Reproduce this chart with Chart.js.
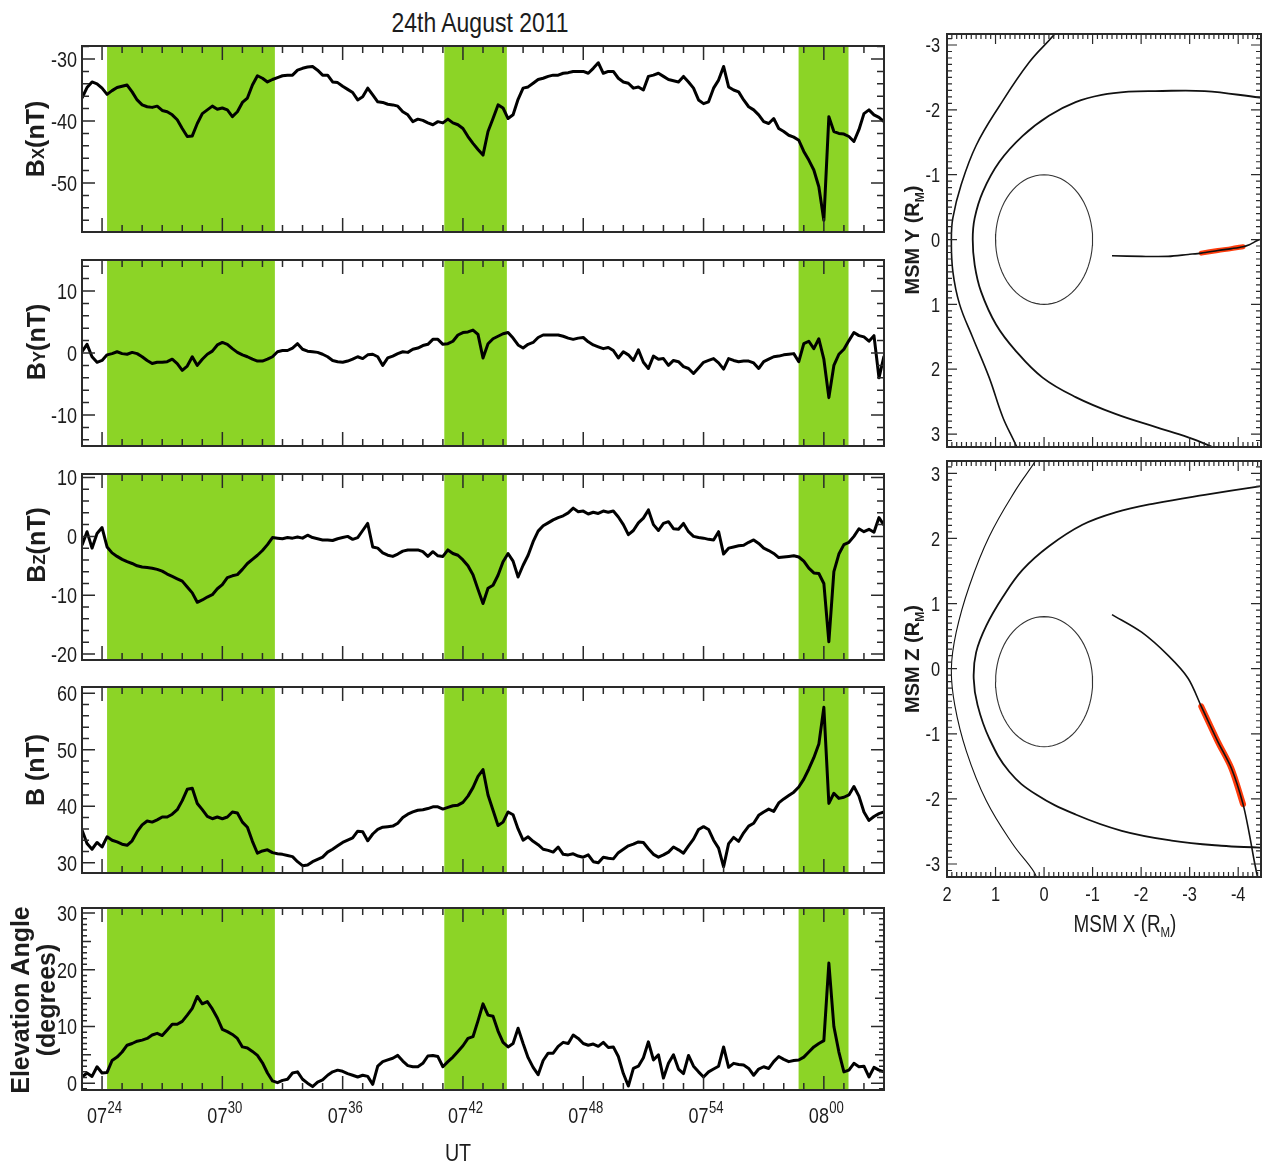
<!DOCTYPE html>
<html>
<head>
<meta charset="utf-8">
<script src="https://cdn.jsdelivr.net/npm/chart.js@4.4.1/dist/chart.umd.min.js"></script>
<style>
  html, body { margin: 0; padding: 0; background: #fff; }
  body { width: 1274px; height: 1169px; position: relative; overflow: hidden; }
  canvas { position: absolute; }
  #title { position: absolute; left: 330px; top: 9px; width: 300px; text-align: center;
           font: 28px/28px "Liberation Sans", Arial, sans-serif; color: #1c1c1c;
           transform: scaleX(0.82); transform-origin: 150px 0; }
</style>
</head>
<body>
<div id="title">24th August 2011</div>
<canvas id="cBx"></canvas>
<canvas id="cBy"></canvas>
<canvas id="cBz"></canvas>
<canvas id="cB"></canvas>
<canvas id="cEl"></canvas>
<canvas id="cXY"></canvas>
<canvas id="cXZ"></canvas>
<script>
// ---------- time base: minutes after 07:00 UT, one sample every 15 s (07:23 - 08:03) ----------
const minutes = Array.from({ length: 161 }, (_, i) => 23 + i * 0.25);
const timeTicks = [24, 30, 36, 42, 48, 54, 60];

// shaded intervals (minutes after 07:00 UT)
const bandStart = [24.25, 41.07, 58.74];
const bandEnd   = [32.62, 44.19, 61.23];

// ---------- magnetic field components (nT) ----------
const bx = [
  -36.3, -34.6, -33.7, -34.0, -34.7, -35.7, -35.1, -34.6, -34.4, -34.2, -35.3, -36.6, -37.4, -37.7, -37.8, -37.6, -38.3, -38.5, -39.0, -39.8,
  -41.2, -42.5, -42.4, -40.4, -38.8, -38.2, -37.6, -38.1, -37.9, -38.2, -39.3, -38.5, -37.0, -36.3, -34.2, -32.7, -33.1, -33.7, -33.3, -33.0,
  -32.7, -32.6, -32.6, -31.8, -31.5, -31.3, -31.2, -31.8, -32.6, -32.6, -33.7, -33.8, -34.4, -34.9, -35.4, -36.6, -36.1, -34.7, -35.8, -36.9,
  -37.0, -37.3, -37.4, -37.6, -38.5, -39.0, -40.1, -39.7, -39.9, -40.3, -40.6, -40.1, -40.3, -39.7, -40.3, -40.6, -41.2, -42.5, -43.6, -44.6,
  -45.5, -41.7, -39.6, -37.4, -37.9, -39.6, -39.0, -36.5, -34.7, -34.5, -33.9, -33.3, -33.1, -32.8, -32.6, -32.6, -32.3, -32.2, -32.0, -32.0,
  -32.0, -32.3, -31.5, -30.6, -32.3, -32.0, -32.0, -33.1, -33.7, -33.9, -34.7, -34.5, -35.0, -32.8, -32.6, -32.3, -32.8, -33.3, -33.5, -33.7,
  -32.8, -33.7, -34.7, -36.6, -37.2, -36.9, -34.7, -33.4, -31.2, -34.5, -35.0, -35.3, -36.6, -37.7, -38.2, -39.0, -40.1, -40.4, -39.6, -41.2,
  -41.7, -42.3, -42.6, -43.1, -44.9, -46.3, -47.9, -50.6, -56.0, -39.3, -41.7, -42.0, -42.1, -42.5, -43.3, -41.4, -38.8, -38.2, -39.0, -39.4,
  -40.1
];
const by = [
  0.2, 1.4, -0.6, -1.5, -1.2, -0.3, -0.1, 0.2, -0.1, -0.2, 0.1, -0.1, -0.6, -1.2, -1.7, -1.5, -1.5, -1.4, -1.0, -1.7,
  -2.8, -2.1, -0.6, -2.0, -1.0, -0.2, 0.3, 1.3, 1.7, 1.4, 0.7, 0.1, -0.3, -0.6, -1.0, -1.3, -1.3, -1.0, -0.6, 0.2,
  0.4, 0.4, 0.8, 1.5, 0.6, 0.3, 0.2, 0.1, -0.2, -0.6, -1.2, -1.4, -1.5, -1.3, -1.0, -0.6, -0.9, -0.3, -0.2, -0.6,
  -2.0, -0.8, -0.5, -0.1, 0.2, 0.1, 0.6, 0.8, 1.2, 1.4, 2.2, 2.2, 1.4, 1.5, 1.9, 2.9, 3.3, 3.4, 3.7, 3.0,
  -0.8, 1.5, 2.3, 2.7, 3.1, 3.3, 2.4, 1.3, 0.8, 1.4, 1.7, 2.5, 2.9, 2.9, 2.9, 2.9, 2.7, 2.4, 2.2, 2.4,
  2.5, 1.8, 1.3, 1.0, 0.7, 0.9, 0.4, -0.8, 0.2, -0.3, -1.2, 0.5, -1.5, -2.5, -0.5, -1.0, -0.9, -2.0, -1.2, -1.4,
  -2.2, -2.5, -3.3, -2.4, -1.5, -1.2, -0.9, -1.6, -2.6, -0.9, -1.2, -1.4, -1.3, -1.3, -1.6, -2.5, -1.4, -1.0, -0.6, -0.5,
  -0.3, -0.2, -0.1, -1.4, 1.5, 1.9, 0.7, 2.3, -1.0, -7.2, -2.0, -0.2, 0.6, 2.0, 3.3, 2.8, 2.6, 1.9, 2.8, -4.0,
  -0.5
];
const bz = [
  -1.5, 0.8, -2.0, 0.5, 1.5, -1.8, -2.8, -3.4, -3.9, -4.3, -4.6, -5.0, -5.2, -5.3, -5.4, -5.6, -5.9, -6.4, -6.8, -7.2,
  -7.6, -8.6, -9.6, -11.2, -10.8, -10.3, -9.9, -8.9, -8.2, -7.0, -6.7, -6.5, -5.6, -4.6, -3.9, -3.2, -2.4, -1.4, -0.2, -0.3,
  -0.4, -0.2, -0.3, -0.1, -0.3, 0.2, -0.2, -0.4, -0.6, -0.6, -0.7, -0.4, -0.2, 0.0, -0.5, -0.2, 1.0, 2.2, -1.8, -2.0,
  -2.8, -3.2, -3.4, -3.0, -2.5, -2.3, -2.3, -2.3, -2.6, -3.4, -2.6, -3.3, -3.4, -2.3, -2.9, -3.2, -4.0, -5.0, -6.5, -9.0,
  -11.4, -8.8, -8.3, -6.6, -4.3, -2.9, -4.2, -6.9, -4.9, -3.2, -0.9, 0.9, 1.8, 2.3, 2.8, 3.2, 3.5, 4.0, 4.8, 4.2,
  4.3, 3.8, 4.1, 3.9, 4.3, 4.1, 4.3, 3.3, 2.0, 0.3, 1.0, 2.3, 3.1, 4.5, 2.0, 1.0, 2.2, 2.5, 1.3, 1.2,
  2.2, 0.8, 0.0, -0.2, -0.3, -0.5, -0.6, 0.8, -3.0, -2.0, -1.8, -1.6, -1.5, -1.0, -0.6, -1.2, -2.0, -2.4, -2.9, -3.6,
  -3.5, -3.4, -3.3, -3.5, -4.2, -5.4, -6.2, -6.3, -8.0, -17.9, -6.0, -3.0, -1.4, -1.0, 0.0, 1.3, 0.8, 1.2, 0.7, 3.2,
  1.9
];
const bTotal = [
  35.8, 33.4, 32.4, 33.6, 32.8, 34.6, 34.0, 33.7, 33.3, 33.1, 33.9, 35.5, 36.7, 37.4, 37.2, 37.6, 38.1, 38.1, 38.6, 39.4,
  41.0, 43.0, 43.2, 40.5, 39.4, 38.2, 37.8, 38.1, 37.8, 38.1, 39.0, 38.8, 37.2, 36.3, 33.8, 31.7, 32.1, 32.3, 31.8, 31.6,
  31.5, 31.3, 31.1, 30.2, 29.5, 29.6, 30.2, 30.6, 31.0, 31.9, 32.4, 33.0, 33.6, 34.0, 34.4, 35.6, 35.5, 33.9, 35.1, 35.9,
  36.3, 36.4, 36.5, 37.0, 38.0, 38.6, 39.0, 39.3, 39.4, 39.6, 39.9, 39.9, 39.5, 39.8, 40.1, 40.2, 40.7, 41.8, 43.3, 45.3,
  46.5, 42.0, 39.3, 36.6, 37.2, 39.0, 38.5, 36.0, 34.0, 34.6, 33.8, 33.2, 32.4, 32.2, 31.9, 32.8, 31.5, 31.4, 31.6, 31.2,
  31.0, 31.4, 30.2, 30.0, 31.0, 30.8, 30.7, 31.8, 32.4, 33.0, 33.3, 33.7, 33.6, 32.5, 31.5, 31.0, 31.4, 31.9, 32.8, 32.3,
  31.7, 33.0, 34.2, 35.9, 36.4, 35.9, 34.0, 32.6, 29.3, 33.4, 34.5, 33.8, 35.3, 36.5, 37.0, 38.4, 39.0, 39.5, 39.1, 40.6,
  41.3, 41.9, 42.5, 43.4, 44.8, 46.6, 48.6, 51.0, 57.5, 40.5, 42.3, 41.4, 41.6, 42.0, 43.5, 41.8, 39.0, 37.5, 38.2, 38.7,
  39.0
];
// field elevation angle (degrees)
const elevation = [
  1.1, 1.8, 1.2, 2.9, 1.8, 1.9, 4.0, 4.6, 5.5, 6.7, 7.0, 7.4, 7.6, 7.9, 8.5, 8.8, 8.4, 9.4, 10.4, 10.4,
  10.9, 12.0, 13.2, 15.3, 14.0, 14.4, 13.1, 11.5, 9.5, 9.1, 8.6, 7.9, 6.4, 6.2, 5.6, 4.9, 3.6, 1.8, 0.4, 0.1,
  0.5, 0.7, 1.8, 2.0, 0.7, 0.0, -0.6, 0.2, 0.6, 1.4, 2.0, 2.3, 2.1, 1.7, 1.4, 1.1, 1.4, 1.2, -0.2, 3.0,
  3.8, 4.1, 4.4, 4.9, 3.9, 3.1, 2.9, 2.9, 3.5, 4.8, 4.9, 4.7, 2.9, 3.8, 4.6, 5.6, 6.6, 7.9, 8.2, 11.0,
  14.0, 12.0, 11.8, 9.2, 7.2, 6.4, 7.0, 9.7, 7.0, 4.5, 2.8, 1.5, 4.0, 5.3, 5.3, 6.5, 7.2, 7.0, 8.5, 7.9,
  7.0, 6.7, 6.9, 6.5, 7.2, 6.3, 6.4, 4.7, 1.7, -0.5, 2.6, 3.0, 4.5, 7.3, 4.1, 5.0, 0.9, 3.5, 5.0, 2.5,
  1.7, 4.9, 3.0, 2.0, 1.1, 2.0, 2.5, 3.0, 6.4, 2.8, 3.5, 3.3, 3.2, 2.6, 1.4, 2.5, 2.9, 2.6, 3.8, 4.7,
  4.2, 3.8, 4.0, 4.1, 4.6, 5.5, 6.4, 7.0, 7.5, 21.2, 10.0, 5.5, 2.0, 2.3, 3.5, 2.9, 3.0, 1.1, 2.8, 2.3,
  2.0
];

const bxTicks = [-50, -40, -30];
const byTicks = [-10, 0, 10];
const bzTicks = [-20, -10, 0, 10];
const bTicks = [30, 40, 50, 60];
const elevTicks = [0, 10, 20, 30];

// ---------- MSM geometry (Mercury radii) ----------
const msmXTicks = [2, 1, 0, -1, -2, -3, -4];
const msmTicks = [-3, -2, -1, 0, 1, 2, 3];

const bowShockXY = [[-0.30, -3.30], [-0.24, -3.19], [0.31, -2.73], [0.92, -2.06], [1.40, -1.45], [1.71, -0.84], [1.88, -0.33], [1.91, 0.0],
                    [1.88, 0.49], [1.74, 1.0], [1.47, 1.51], [1.13, 2.13], [0.85, 2.74], [0.58, 3.17], [0.52, 3.30]];
const magnetopauseXY = [[-4.60, -2.18], [-4.44, -2.19], [-3.31, -2.29], [-2.29, -2.29], [-1.74, -2.28], [-1.19, -2.23], [-0.65, -2.12],
                        [-0.10, -1.91], [0.44, -1.60], [0.92, -1.20], [1.26, -0.74], [1.43, -0.33], [1.47, 0.0], [1.43, 0.39],
                        [1.30, 0.80], [0.99, 1.31], [0.58, 1.72], [0.03, 2.13], [-0.65, 2.43], [-1.47, 2.69], [-2.29, 2.89],
                        [-2.97, 3.05], [-3.38, 3.17], [-3.60, 3.25]];
const bowShockXZ = [[0.12, 3.30], [0.17, 3.20], [0.58, 2.75], [1.13, 2.03], [1.54, 1.27], [1.81, 0.56], [1.91, 0.0], [1.84, -0.56],
                    [1.60, -1.27], [1.19, -2.03], [0.65, -2.69], [0.20, -3.13], [0.12, -3.30]];
const magnetopauseXZ = [[-4.60, 2.81], [-4.44, 2.80], [-3.31, 2.67], [-2.29, 2.54], [-1.47, 2.40], [-0.79, 2.21], [-0.10, 1.88],
                        [0.44, 1.52], [0.85, 1.10], [1.19, 0.66], [1.40, 0.25], [1.45, -0.15], [1.37, -0.56], [1.13, -1.07],
                        [0.72, -1.58], [0.17, -1.93], [-0.65, -2.24], [-1.60, -2.49], [-2.63, -2.64], [-3.65, -2.72],
                        [-4.44, -2.75], [-4.60, -2.76]];
// MESSENGER trajectory; samples 4..7 cover the interval shown on the left
const orbitX = [-1.40, -2.01, -2.56, -2.97, -3.24, -3.58, -3.86, -4.10, -4.23, -4.33, -4.44];
const orbitY = [0.25, 0.26, 0.26, 0.23, 0.21, 0.17, 0.14, 0.11, 0.08, 0.04, 0.0];
const orbitZ = [0.83, 0.56, 0.20, -0.15, -0.58, -1.12, -1.53, -2.08, -2.54, -2.95, -3.35];
const intervalFirst = 4, intervalLast = 7;
const planetRadius = 1.0;
const dipoleOffsetZ = -0.2;

// ---------- styling ----------
const INK = '#1c1c1c';
const FRAME = '#2a2a2a';
const GREEN = '#8cd426';
const RED = '#ff3c0c';
const SANS = '"Liberation Sans", Arial, sans-serif';
const NARROW_X = 0.82;   // horizontal squeeze giving the condensed label face

function part(t, size, weight, dy) {
  return { t, size, font: `${weight} ${size}px ${SANS}`, dy: dy || 0 };
}
// centred run of text pieces, optionally rotated and horizontally condensed
function drawRich(ctx, parts, cx, cy, rot, sx) {
  ctx.save();
  ctx.translate(cx, cy);
  ctx.rotate(rot || 0);
  ctx.scale(sx || 1, 1);
  ctx.fillStyle = INK;
  ctx.textAlign = 'left';
  ctx.textBaseline = 'alphabetic';
  let w = 0;
  parts.forEach(p => { ctx.font = p.font; w += ctx.measureText(p.t).width; });
  let x = -w / 2;
  const base = parts[0].size * 0.36;
  parts.forEach(p => {
    ctx.font = p.font;
    ctx.fillText(p.t, x, base + p.dy);
    x += ctx.measureText(p.t).width;
  });
  ctx.restore();
}
// single condensed label; (x, y) is the anchor, y the visual centre of the digits
function drawNarrow(ctx, text, x, y, size, align) {
  ctx.save();
  ctx.translate(x, y);
  ctx.scale(NARROW_X, 1);
  ctx.font = `${size}px ${SANS}`;
  ctx.fillStyle = INK;
  ctx.textAlign = align;
  ctx.textBaseline = 'alphabetic';
  ctx.fillText(text, 0, size * 0.36);
  ctx.restore();
}
const fmt = v => String(v);

// shaded bands, closed frame, inward tick marks on all four sides and tick labels
const idlFrame = {
  id: 'idlFrame',
  beforeDatasetsDraw(chart, args, opts) {
    if (!opts.bands) return;
    const { ctx, chartArea: a, scales: { x } } = chart;
    ctx.save();
    ctx.fillStyle = GREEN;
    bandStart.forEach((s, i) => {
      const x0 = x.getPixelForValue(s), x1 = x.getPixelForValue(bandEnd[i]);
      ctx.fillRect(Math.min(x0, x1), a.top, Math.abs(x1 - x0), a.bottom - a.top);
    });
    ctx.restore();
  },
  afterDatasetsDraw(chart, args, opts) {
    const { ctx, chartArea: a, scales } = chart;
    ctx.save();
    ctx.strokeStyle = FRAME;
    ctx.lineWidth = opts.tickWidth || 1.5;
    const marks = (scale, spec, horizontal) => {
      const [step, majorEvery, midEvery, minorLen, midLen, majorLen] = spec;
      const k0 = Math.ceil(scale.min / step - 1e-6), k1 = Math.floor(scale.max / step + 1e-6);
      ctx.beginPath();
      for (let k = k0; k <= k1; k++) {
        let len = minorLen;
        if (k % majorEvery === 0) len = majorLen;
        else if (midEvery && k % midEvery === 0) len = midLen;
        const p = scale.getPixelForValue(k * step);
        if (horizontal) {
          ctx.moveTo(p, a.top); ctx.lineTo(p, a.top + len);
          ctx.moveTo(p, a.bottom); ctx.lineTo(p, a.bottom - len);
        } else {
          ctx.moveTo(a.left, p); ctx.lineTo(a.left + len, p);
          ctx.moveTo(a.right, p); ctx.lineTo(a.right - len, p);
        }
      }
      ctx.stroke();
    };
    marks(scales.x, opts.x, true);
    marks(scales.y, opts.y, false);
    ctx.lineWidth = opts.frameWidth || 2;
    ctx.strokeRect(a.left, a.top, a.right - a.left, a.bottom - a.top);
    ctx.restore();

    // value labels along the left axis (and the bottom one where asked)
    const ys = scales.y;
    ys.ticks.forEach(t => drawNarrow(ctx, fmt(t.value), a.left - opts.yGap, ys.getPixelForValue(t.value), opts.ySize, 'right'));
    if (opts.xLabels) {
      const xs = scales.x;
      xs.ticks.forEach(t => drawNarrow(ctx, fmt(t.value), xs.getPixelForValue(t.value), a.bottom + opts.xGap, opts.xSize, 'center'));
    }
  }
};

// axis titles and the UT time labels
const richText = {
  id: 'richText',
  afterDraw(chart, args, opts) {
    const ctx = chart.ctx;
    (opts.items || []).forEach(it => drawRich(ctx, it.parts, it.x - opts.ox, it.y - opts.oy, it.rot, it.sx));
    if (opts.time) {
      const x = chart.scales.x, a = chart.chartArea;
      timeTicks.forEach(v => {
        const px = x.getPixelForValue(v);
        const hh = String(7 + Math.floor(v / 60)).padStart(2, '0');
        const mm = String(v % 60).padStart(2, '0');
        ctx.save();
        ctx.translate(px - 15, 0);
        ctx.scale(NARROW_X, 1);
        ctx.fillStyle = INK;
        ctx.textAlign = 'left';
        ctx.textBaseline = 'alphabetic';
        ctx.font = `22px ${SANS}`;
        const w1 = ctx.measureText(hh).width;
        ctx.fillText(hh, 0, a.bottom + 33);
        ctx.font = `16px ${SANS}`;
        ctx.fillText(mm, w1 + 0.5, a.bottom + 23);
        ctx.restore();
      });
      drawRich(ctx, [part('UT', 24, 'normal')], 458 - opts.ox, 1152 - opts.oy, 0, NARROW_X);
    }
  }
};

const ROT = -Math.PI / 2;
const titleParts = (sub) => [part('B', 25, 'bold'), part(sub, 17, 'bold'), part('(nT)', 25, 'bold')];

const panels = [
  { id: 'cBx', values: bx, min: -57.9, max: -27.9, ticks: bxTicks, top: 46, bottom: 232, y: [2, 5, 0, 7, 7, 13],
    titles: [{ parts: titleParts('X'), x: 35, y: 139, rot: ROT }] },
  { id: 'cBy', values: by, min: -15, max: 15, ticks: byTicks, top: 260, bottom: 446, y: [2, 5, 0, 7, 7, 13],
    titles: [{ parts: titleParts('Y'), x: 36, y: 342, rot: ROT }] },
  { id: 'cBz', values: bz, min: -21, max: 10.6, ticks: bzTicks, top: 474, bottom: 660, y: [2, 5, 0, 7, 7, 13],
    titles: [{ parts: titleParts('Z'), x: 36, y: 545, rot: ROT }] },
  { id: 'cB', values: bTotal, min: 28.2, max: 61.1, ticks: bTicks, top: 687, bottom: 873, y: [2, 5, 0, 7, 7, 13],
    titles: [{ parts: [part('B (nT)', 25, 'bold')], x: 35, y: 770, rot: ROT }] },
  { id: 'cEl', values: elevation, min: -1.2, max: 30.9, ticks: elevTicks, top: 908, bottom: 1090, y: [1, 10, 5, 5, 9, 13],
    titles: [{ parts: [part('Elevation Angle', 25, 'bold')], x: 20, y: 1000, rot: ROT },
             { parts: [part('(degrees)', 25, 'bold')], x: 46, y: 1000, rot: ROT }],
    time: true }
];

function makeSeries(p) {
  const cv = document.getElementById(p.id);
  const padTop = 14;
  const canvasTop = p.top - padTop;
  const height = p.time ? 1169 - canvasTop : (p.bottom - p.top) + 28;
  const padBottom = height - padTop - (p.bottom - p.top);
  cv.width = 900; cv.height = height;
  cv.style.left = '0px'; cv.style.top = canvasTop + 'px';
  return new Chart(cv, {
    type: 'line',
    data: {
      datasets: [{
        data: minutes.map((t, i) => ({ x: t, y: p.values[i] })),
        borderColor: '#000', borderWidth: 3, pointRadius: 0, tension: 0, borderJoinStyle: 'round'
      }]
    },
    options: {
      responsive: false, animation: false, devicePixelRatio: 1,
      layout: { autoPadding: false, padding: { left: 0, right: 16, top: padTop, bottom: padBottom } },
      plugins: {
        legend: { display: false }, tooltip: { enabled: false },
        idlFrame: { bands: true, x: [1, 6, 0, 7, 7, 14], y: p.y, frameWidth: 2, tickWidth: 1.5, yGap: 5, ySize: 22 },
        richText: { items: p.titles, ox: 0, oy: canvasTop, time: !!p.time }
      },
      scales: {
        x: {
          type: 'linear', min: 23, max: 63,
          afterBuildTicks: s => { s.ticks = timeTicks.map(v => ({ value: v })); },
          afterFit: s => { s.height = 0; s.paddingLeft = 0; s.paddingRight = 0; },
          ticks: { display: false }, grid: { display: false, drawTicks: false }, border: { display: false }
        },
        y: {
          type: 'linear', min: p.min, max: p.max,
          afterBuildTicks: s => { s.ticks = p.ticks.map(v => ({ value: v })); },
          afterFit: s => { s.width = 82; s.paddingTop = 0; s.paddingBottom = 0; },
          ticks: { display: false },
          grid: { display: false, drawTicks: false }, border: { display: false }
        }
      }
    },
    plugins: [idlFrame, richText]
  });
}
panels.forEach(makeSeries);

// planet outline from its radius and centre
function planetOutline(cz) {
  const pts = [];
  for (let i = 0; i <= 72; i++) {
    const a = (i / 72) * 2 * Math.PI;
    pts.push({ x: planetRadius * Math.cos(a), y: cz + planetRadius * Math.sin(a) });
  }
  return pts;
}
const toPts = arr => arr.map(([x, y]) => ({ x, y }));

function makeOrbit(o) {
  const cv = document.getElementById(o.id);
  cv.width = 384; cv.height = o.height;
  cv.style.left = '890px'; cv.style.top = o.canvasTop + 'px';
  const track = orbitX.map((x, i) => ({ x, y: o.second[i] }));
  const lineDs = (data, color, width, tension) => ({
    data, borderColor: color, borderWidth: width, pointRadius: 0, showLine: true, tension, fill: false
  });
  return new Chart(cv, {
    type: 'scatter',
    data: {
      datasets: [
        lineDs(toPts(o.bow), '#111', o.bowWidth, 0.4),
        lineDs(toPts(o.mp), '#111', 1.8, 0.4),
        lineDs(planetOutline(o.cz), '#333', 1.1, 0),
        lineDs(track, '#111', 1.6, 0.3),
        Object.assign(lineDs(track.slice(intervalFirst, intervalLast + 1), RED, o.redWidth, 0.3), { borderCapStyle: 'round' })
      ]
    },
    options: {
      responsive: false, animation: false, devicePixelRatio: 1,
      layout: { autoPadding: false, padding: { left: 0, right: 13, top: 20, bottom: o.padBottom } },
      plugins: {
        legend: { display: false }, tooltip: { enabled: false },
        idlFrame: { bands: false, x: [0.1, 10, 0, 5, 5, 10], y: [0.1, 10, 0, 5, 5, 10], frameWidth: 2, tickWidth: 1.2,
                    yGap: 7, ySize: 20, xLabels: o.showX, xGap: 17, xSize: 20 },
        richText: { items: o.titles, ox: 890, oy: o.canvasTop }
      },
      scales: {
        x: {
          type: 'linear', min: -4.47, max: 2, reverse: true,
          afterBuildTicks: s => { s.ticks = msmXTicks.map(v => ({ value: v })); },
          afterFit: s => { s.height = o.xHeight; s.paddingLeft = 0; s.paddingRight = 0; },
          ticks: { display: false },
          grid: { display: false, drawTicks: false }, border: { display: false }
        },
        y: {
          type: 'linear', min: o.min, max: o.max, reverse: o.reverseY,
          afterBuildTicks: s => { s.ticks = msmTicks.map(v => ({ value: v })); },
          afterFit: s => { s.width = 57; s.paddingTop = 0; s.paddingBottom = 0; },
          ticks: { display: false },
          grid: { display: false, drawTicks: false }, border: { display: false }
        }
      }
    },
    plugins: [idlFrame, richText]
  });
}

const rmTitle = (axis, weight, size) =>
  [part(`MSM ${axis} (R`, size, weight), part('M', Math.round(size * 0.6), weight, size * 0.22), part(')', size, weight)];

makeOrbit({
  id: 'cXY', canvasTop: 14, height: 441, padBottom: 8, xHeight: 0, showX: false, redWidth: 5,
  bow: bowShockXY, mp: magnetopauseXY, bowWidth: 1.6, second: orbitY, cz: 0,
  min: -3.17, max: 3.2, reverseY: true,
  titles: [{ parts: rmTitle('Y', 'bold', 20), x: 912, y: 240, rot: ROT }]
});
makeOrbit({
  id: 'cXZ', canvasTop: 441, height: 530, padBottom: 34, xHeight: 60, showX: true, redWidth: 6,
  bow: bowShockXZ, mp: magnetopauseXZ, bowWidth: 1.1, second: orbitZ, cz: dipoleOffsetZ,
  min: -3.2, max: 3.19, reverseY: false,
  titles: [{ parts: rmTitle('Z', 'bold', 20), x: 912, y: 659, rot: ROT },
           { parts: rmTitle('X', 'normal', 23), x: 1125, y: 924, rot: 0, sx: NARROW_X }]
});
</script>
</body>
</html>
